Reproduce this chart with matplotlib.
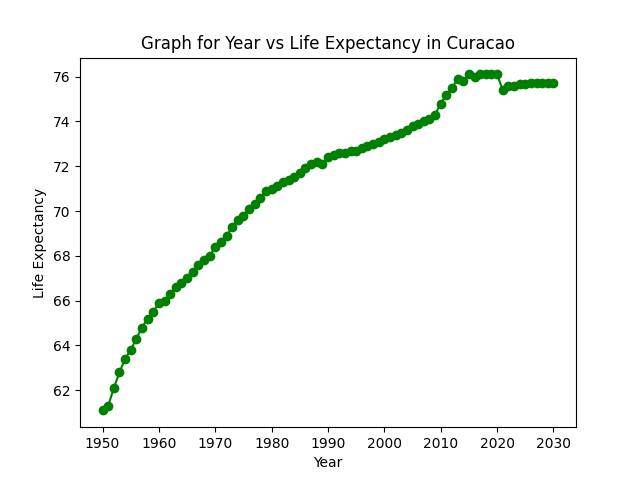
import matplotlib
matplotlib.use("Agg")
import matplotlib.pyplot as plt

years = list(range(1950, 2031))
life_expectancy = [
    61.1, 61.3, 62.1, 62.8, 63.4, 63.8, 64.3, 64.8, 65.2, 65.5,
    65.9, 66.0, 66.3, 66.6, 66.8, 67.0, 67.3, 67.6, 67.8, 68.0,
    68.4, 68.6, 68.9, 69.3, 69.6, 69.8, 70.1, 70.3, 70.6, 70.9,
    71.0, 71.1, 71.3, 71.4, 71.5, 71.7, 71.9, 72.1, 72.2, 72.1,
    72.4, 72.5, 72.6, 72.6, 72.7, 72.7, 72.8, 72.9, 73.0, 73.1,
    73.2, 73.3, 73.4, 73.5, 73.6, 73.8, 73.9, 74.0, 74.1, 74.3,
    74.8, 75.2, 75.5, 75.9, 75.8, 76.1, 76.0, 76.1, 76.1, 76.1,
    76.1, 75.4, 75.6, 75.6, 75.65, 75.65, 75.7, 75.7, 75.7, 75.7,
    75.7,
]

fig, ax = plt.subplots(figsize=(6.4, 4.8), dpi=100)
ax.plot(years, life_expectancy, marker="o", color="green")
ax.set_title("Graph for Year vs Life Expectancy in Curacao")
ax.set_xlabel("Year")
ax.set_ylabel("Life Expectancy")
plt.savefig("out.png")
